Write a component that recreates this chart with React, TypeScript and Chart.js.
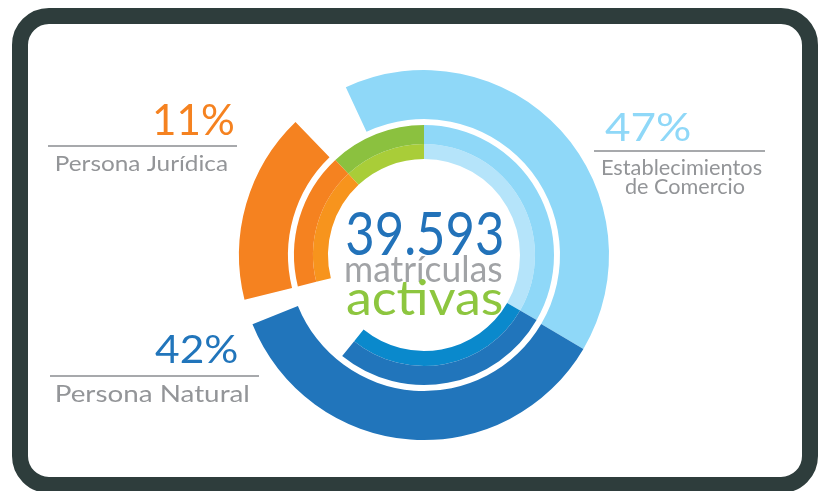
import React, { useEffect, useRef } from 'react';
import { Chart, registerables } from 'chart.js';

Chart.register(...registerables);

// ---- data ----
const totalText = '39.593';
const centerWords = ['matrículas', 'activas'];
const categoryNames = ['Establecimientos de Comercio', 'Persona Natural', 'Persona Jurídica'];
const sharePercent = [47, 42, 11];

// Outer ring: angular sweep (degrees, clockwise) of each drawn arc, gaps included
const outerSegments = ['Establecimientos de Comercio', 'Persona Natural', 'gap', 'Persona Jurídica', 'gap'];
const outerSweep = [145.5, 127.5, 8, 60, 19];
const outerStart = -25;

// Inner ring: sweep of each arc
const innerSegments = ['Verde', 'Establecimientos de Comercio', 'Persona Natural', 'gap', 'Persona Jurídica'];
const innerSweep = [43, 120, 99, 37, 61];
const innerStart = -43;

// ---- styles ----
const T = 'rgba(0,0,0,0)';
const outerColors = ['#8fd8f8', '#2175bb', T, '#f58220', T];
const innerBandOuterColors = ['#8bc13f', '#8fd8f8', '#2175bb', T, '#f58220'];
const innerBandInnerColors = ['#a9cd38', '#b5e4fa', '#0a89cc', T, '#f7941d'];

const FONT = 'Lato, "Open Sans", sans-serif';

function fitText(
  ctx: CanvasRenderingContext2D,
  text: string,
  x0: number,
  x1: number,
  baseline: number,
  size: number,
  color: string
) {
  ctx.save();
  ctx.font = `${size}px ${FONT}`;
  ctx.textAlign = 'left';
  ctx.textBaseline = 'alphabetic';
  const m = ctx.measureText(text);
  const L = -m.actualBoundingBoxLeft;
  const R = m.actualBoundingBoxRight;
  const s = (x1 - x0) / (R - L);
  ctx.translate(x0 - s * L, baseline);
  ctx.scale(s, 1);
  ctx.fillStyle = color;
  ctx.fillText(text, 0, 0);
  ctx.restore();
}

function rule(ctx: CanvasRenderingContext2D, x0: number, x1: number, y: number) {
  ctx.save();
  ctx.strokeStyle = '#a7a9ac';
  ctx.lineWidth = 2;
  ctx.beginPath();
  ctx.moveTo(x0, y);
  ctx.lineTo(x1, y);
  ctx.stroke();
  ctx.restore();
}

const labelsPlugin = {
  id: 'labelsPlugin',
  afterDraw(chart: any) {
    const ctx: CanvasRenderingContext2D = chart.ctx;
    const gray = '#939598';
    // Persona Jurídica
    fitText(ctx, `${sharePercent[2]}%`, 155, 233, 135, 42, '#f58220');
    rule(ctx, 48, 237, 146);
    fitText(ctx, categoryNames[2], 57, 227, 171, 22, gray);
    // Persona Natural
    fitText(ctx, `${sharePercent[1]}%`, 155, 237, 363, 39, '#2175bb');
    rule(ctx, 50, 259, 376);
    fitText(ctx, categoryNames[1], 57, 248, 402, 24, gray);
    // Establecimientos de Comercio
    fitText(ctx, `${sharePercent[0]}%`, 605, 690, 141, 39, '#8fd8f8');
    rule(ctx, 594, 765, 151);
    const parts = categoryNames[0].split(' de ');
    fitText(ctx, parts[0], 602, 762, 175, 21, gray);
    fitText(ctx, 'de ' + parts[1], 625, 745, 194, 21, gray);
    // center
    fitText(ctx, totalText, 347, 502, 255, 60, '#2272b9');
    fitText(ctx, centerWords[0], 346, 502, 282, 36, '#a1a3a6');
    fitText(ctx, centerWords[1], 347, 502, 315, 49, '#8dc63f');
  },
};

export default function App() {
  const ref = useRef<HTMLCanvasElement | null>(null);

  useEffect(() => {
    if (!ref.current) return;
    const chart = new Chart(ref.current, {
      type: 'doughnut',
      data: {
        labels: outerSegments,
        datasets: [
          {
            data: outerSweep,
            backgroundColor: outerColors,
            rotation: outerStart,
            weight: 49,
            borderWidth: 0,
          },
          {
            data: [1],
            backgroundColor: [T],
            weight: 6,
            borderWidth: 0,
          },
          {
            data: innerSweep,
            backgroundColor: innerBandOuterColors,
            rotation: innerStart,
            weight: 19,
            borderWidth: 0,
          },
          {
            data: innerSweep,
            backgroundColor: innerBandInnerColors,
            rotation: innerStart,
            weight: 15,
            borderWidth: 0,
          },
        ] as any,
      },
      options: {
        animation: false,
        responsive: false,
        cutout: 96,
        layout: { padding: { left: 239, top: 70, right: 213, bottom: 51 } },
        plugins: {
          legend: { display: false },
          tooltip: { enabled: false },
        },
        events: [],
      } as any,
      plugins: [labelsPlugin],
    });
    return () => chart.destroy();
  }, []);

  return (
    <div
      style={{
        position: 'fixed',
        left: 0,
        top: 0,
        width: 822,
        height: 491,
        overflow: 'hidden',
        background: '#ffffff',
      }}
    >
      <div
        style={{
          position: 'absolute',
          left: 12,
          top: 8,
          width: 806,
          height: 485,
          boxSizing: 'border-box',
          border: '16px solid #2e3d3c',
          borderRadius: 37,
        }}
      />
      <canvas
        ref={ref}
        width={822}
        height={491}
        style={{ position: 'absolute', left: 0, top: 0, width: 822, height: 491 }}
      />
    </div>
  );
}
